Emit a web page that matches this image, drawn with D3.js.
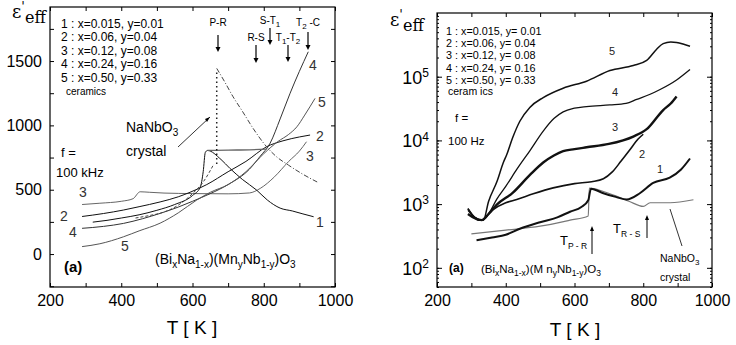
<!DOCTYPE html>
<html>
<head>
<meta charset="utf-8">
<script src="https://cdn.jsdelivr.net/npm/d3@7"></script>
<style>
  body { margin: 0; background: #fff; }
  svg { font-family: "Liberation Sans", Arial, sans-serif; }
  .tick text { font-size: 16px; }
</style>
</head>
<body>
<svg id="chart" width="736" height="345"></svg>
<script>
// ---- panel (a) left: 100 kHz, linear scale  [T (K), eps]
const left1 = [[320,248],[360,262],[400,280],[450,305],[500,340],[550,385],[600,455],[622,520],[630,640],[636,790],[642,805],[680,735],[705,666],[740,580],[780,497],[810,420],[846,357],[880,335],[910,312],[940,290]];
const left2 = [[290,292],[350,315],[406,342],[450,368],[509,405],[560,445],[593,480],[640,540],[700,640],[750,720],[808,834],[854,880],[900,910],[930,925]];
const left3 = [[290,385],[340,395],[400,410],[433,430],[453,484],[480,480],[520,474],[600,470],[700,468],[760,475],[790,510],[830,600],[870,720],[900,800],[920,873]];
const left4 = [[290,200],[350,215],[406,238],[460,275],[509,316],[560,365],[600,410],[650,470],[700,540],[760,660],[790,760],[818,862],[846,1050],[874,1250],[900,1420],[925,1572]];
const left5 = [[290,58],[340,80],[406,134],[450,180],[509,240],[560,320],[612,420],[650,480],[700,540],[750,640],[800,780],[840,875],[870,930],[893,989],[915,1080],[944,1210]];
const leftFlat = [[642,805],[700,808],[760,810],[808,815]];
const crystalLow = [[440,280],[480,300],[510,318],[560,380],[600,470],[630,560],[660,700]];
const crystalJump = [[668,700],[668,1430]];
const crystalHigh = [[668,1443],[690,1340],[714,1222],[740,1110],[770,977],[808,834],[836,756],[870,690],[910,620],[950,560]];

// ---- panel (a) right: 100 Hz, log scale
const right1 = [[315,270],[360,300],[400,330],[441,410],[500,520],[550,620],[587,760],[620,900],[640,1150],[648,1750],[684,1480],[720,1300],[752,1180],[790,1480],[829,2150],[877,2600],[910,3500],[936,5200]];
const right2 = [[290,850],[310,620],[330,560],[360,800],[400,1050],[432,1180],[480,1450],[538,1800],[600,2100],[650,2250],[684,2500],[710,3200],[735,4700],[760,7000],[785,10500],[800,12500]];
const right3 = [[290,700],[310,600],[330,560],[350,700],[374,980],[420,1500],[471,2900],[509,4500],[540,5800],[567,6800],[600,7300],[635,7800],[700,8800],[771,11500],[810,15000],[858,30000],[880,38000],[897,49000]];
const right4 = [[290,800],[310,620],[330,560],[350,700],[374,1200],[400,1900],[432,3500],[471,7000],[509,14000],[540,22000],[567,28000],[600,32000],[635,34000],[703,36000],[750,38000],[781,44000],[820,53000],[849,63000],[897,89000],[936,130000]];
const right5 = [[290,850],[305,650],[320,560],[335,560],[350,1100],[375,2300],[393,4500],[403,6000],[420,11000],[441,20000],[470,33000],[509,47000],[567,66000],[635,85000],[703,125000],[771,150000],[810,180000],[839,270000],[858,330000],[880,350000],[897,345000],[920,320000],[936,300000]];
const rightCrystal = [[300,340],[400,390],[500,450],[587,560],[640,650],[643,1780],[684,1580],[720,1350],[760,1100],[800,920],[820,1050],[878,1050],[946,1170]];

const legendLeft = ['1 :  x=0.015, y=0.01', '2 :  x=0.06, y=0.04', '3 :  x=0.12, y=0.08', '4 :  x=0.24, y=0.16', '5 :  x=0.50, y=0.33'];
const legendRight = ['1 :   x=0.015, y= 0.01', '2 :   x=0.06, y= 0.04', '3 :   x=0.12, y= 0.08', '4 :   x=0.24, y= 0.16', '5 :   x=0.50, y= 0.33'];
const xTicks = [200, 400, 600, 800, 1000];
const yTicksLeft = [0, 500, 1000, 1500];
const yTicksRight = [1e2, 1e3, 1e4, 1e5];

const svg = d3.select('#chart');

function frame(g, x, y) {
    const [x0, x1] = x.range(), [y0, y1] = y.range();
    g.append('rect').attr('x', x0).attr('y', y1).attr('width', x1 - x0).attr('height', y0 - y1)
        .attr('fill', 'none').attr('stroke', '#000').attr('stroke-width', 1.2);
    // bottom + top
    g.append('g').attr('transform', `translate(0,${y0})`)
        .call(d3.axisBottom(x).tickValues(d3.range(200, 1001, 100)).tickSizeInner(-4).tickSizeOuter(0).tickPadding(8)
            .tickFormat(d => xTicks.includes(d) ? d : ''));
    g.append('g').attr('transform', `translate(0,${y1})`)
        .call(d3.axisTop(x).tickValues(d3.range(200, 1001, 100)).tickSizeInner(-4).tickSizeOuter(0).tickFormat(''));
}

// text with subscripts: parts = [[text, 'sub'|'sup'|null, size]]
function rich(g, x, y, size, parts, opts) {
    const t = g.append('text').attr('x', x).attr('y', y).style('font-size', size + 'px')
        .attr('fill', (opts && opts.fill) || '#000');
    if (opts && opts.anchor) t.attr('text-anchor', opts.anchor);
    if (opts && opts.weight) t.style('font-weight', opts.weight);
    if (opts && opts.family) t.style('font-family', opts.family);
    let cur = 0;
    parts.forEach(([s, kind, sz]) => {
        const target = kind === 'sub' ? size * 0.3 : kind === 'sup' ? -size * 0.4 : 0;
        const ts = t.append('tspan').attr('dy', target - cur).text(s);
        if (sz) ts.style('font-size', sz + 'px');
        cur = target;
    });
    return t;
}
const txt = (g, x, y, s, size, opts) => rich(g, x, y, size, [[s]], opts);

// ---------- left panel
const xl = d3.scaleLinear().domain([200, 1000]).range([50, 335]);
const yl = d3.scaleLinear().domain([-256, 1920]).range([287, 7]);
const gl = svg.append('g');
frame(gl, xl, yl);
gl.append('g').attr('transform', 'translate(50,0)')
    .call(d3.axisLeft(yl).tickValues(d3.range(-250, 1901, 250)).tickSizeInner(-4).tickSizeOuter(0).tickPadding(8)
        .tickFormat(d => yTicksLeft.includes(d) ? d : ''));
gl.append('g').attr('transform', 'translate(335,0)')
    .call(d3.axisRight(yl).tickValues(d3.range(-250, 1901, 250)).tickSizeInner(-4).tickSizeOuter(0).tickFormat(''));
gl.selectAll('.domain').remove();

const linel = d3.line().x(d => xl(d[0])).y(d => yl(d[1])).curve(d3.curveMonotoneX);
const drawL = (data, color, dash, w) => gl.append('path').datum(data).attr('d', linel)
    .attr('fill', 'none').attr('stroke', color).attr('stroke-width', w || 1).attr('stroke-dasharray', dash || null);
drawL(left3, '#666');
drawL(left2, '#111');
drawL(left1, '#111');
drawL(left4, '#333');
drawL(left5, '#555');
drawL(leftFlat, '#666', null, 1.3);
drawL(crystalLow, '#444', '3,2');
drawL(crystalJump, '#222', '1.5,3', 1.5);
drawL(crystalHigh, '#444', '5,2,1,2');

// ---------- right panel
const xr = d3.scaleLinear().domain([200, 1000]).range([437, 712]);
const yr = d3.scaleLog().domain([50, 1e6]).range([287, 13]);
const gr = svg.append('g');
frame(gr, xr, yr);
const minor = [];
[10, 100, 1000, 10000, 100000].forEach(p => d3.range(1, 10).forEach(k => { if (p * k >= 50 && p * k <= 1e6) minor.push(p * k); }));
gr.append('g').attr('transform', 'translate(437,0)')
    .call(d3.axisLeft(yr).tickValues(minor).tickSize(-2).tickFormat(''));
gr.append('g').attr('transform', 'translate(712,0)')
    .call(d3.axisRight(yr).tickValues(minor).tickSize(-2).tickFormat(''));
const yax = gr.append('g').attr('transform', 'translate(437,0)')
    .call(d3.axisLeft(yr).tickValues(yTicksRight).tickSizeInner(-5).tickSizeOuter(0).tickPadding(8).tickFormat(''));
gr.append('g').attr('transform', 'translate(712,0)')
    .call(d3.axisRight(yr).tickValues(yTicksRight).tickSizeInner(-5).tickSizeOuter(0).tickFormat(''));
yax.selectAll('.tick').append('text').attr('x', -8).attr('dy', '0.35em').attr('text-anchor', 'end')
    .attr('fill', '#000').style('font-size', '18px')
    .each(function (d) {
        const t = d3.select(this);
        t.append('tspan').text('10');
        t.append('tspan').attr('dy', '-0.55em').style('font-size', '12px').text(Math.round(Math.log10(d)));
    });
gr.selectAll('.domain').remove();

const liner = d3.line().x(d => xr(d[0])).y(d => yr(d[1])).curve(d3.curveMonotoneX);
const drawR = (data, color, w) => gr.append('path').datum(data).attr('d', liner)
    .attr('fill', 'none').attr('stroke', color).attr('stroke-width', w);
drawR(rightCrystal, '#777', 1.2);
drawR(right1, '#111', 2);
drawR(right2, '#111', 1.6);
drawR(right3, '#111', 2.4);
drawR(right4, '#111', 1.3);
drawR(right5, '#111', 1.5);

// ---------- texts
txt(svg, 192, 334, 'T [ K ]', 19, { anchor: 'middle' });
txt(svg, 575, 336, 'T [ K ]', 19, { anchor: 'middle' });
[[12, 18], [390, 26]].forEach(([x, y]) => {
    rich(svg, x, y, 18, [['ε'], ['\'', 'sup', 13], ['eff', 'sub', 16]], { family: 'DejaVu Serif' });
});

// left legend & notes
legendLeft.forEach((s, i) => txt(gl, 61, 28 + i * 13.4, s, 12));
txt(gl, 66, 95, 'ceramics', 10);
txt(gl, 61, 157, 'f =', 13);
txt(gl, 56, 177, '100 kHz', 13);
rich(gl, 126, 132, 14, [['NaNbO'], ['3', 'sub', 10]]);
txt(gl, 126, 156, 'crystal', 14);
gl.append('line').attr('x1', 178).attr('y1', 147).attr('x2', 210).attr('y2', 117).attr('stroke', '#000').attr('stroke-width', 0.8);
gl.append('path').attr('d', 'M210,117 l-5,2 l2,3 z').attr('fill', '#000');
txt(gl, 64, 272, '(a)', 15, { weight: 'bold' });
rich(gl, 155, 264, 14, [['(Bi'], ['x', 'sub', 10], ['Na'], ['1-x', 'sub', 10], [')(Mn'], ['y', 'sub', 10], ['Nb'], ['1-y', 'sub', 10], [')O'], ['3', 'sub', 10]]);
// transition arrows
[[[['P-R']], 218, 26, 35, 52], [[['R-S']], 256, 41, 45, 63], [[['S-T'], ['1', 'sub', 8]], 270, 24, 28, 45],
 [[['T'], ['1', 'sub', 8], ['-T'], ['2', 'sub', 8]], 288, 41, 45, 62], [[['T'], ['2', 'sub', 8], [' -C']], 308, 26, 32, 50]]
    .forEach(([parts, x, ty, a0, a1]) => {
        rich(gl, x, ty, 10, parts, { anchor: 'middle' });
        gl.append('line').attr('x1', x).attr('x2', x).attr('y1', a0).attr('y2', a1 - 4).attr('stroke', '#000').attr('stroke-width', 1.2);
        gl.append('path').attr('d', `M${x - 2.5},${a1 - 5} L${x + 2.5},${a1 - 5} L${x},${a1} Z`).attr('fill', '#000');
    });
[['4', 313, 70], ['5', 322, 107], ['2', 320, 141], ['3', 310, 161], ['1', 320, 227], ['3', 83, 197], ['2', 64, 221], ['4', 73, 237], ['5', 125, 251]]
    .forEach(([s, x, y]) => txt(gl, x, y, s, 14, { anchor: 'middle', fill: '#333' }));

// right legend & notes
legendRight.forEach((s, i) => txt(gr, 446, 35 + i * 12.2, s, 10.8));
txt(gr, 448, 95, 'ceram ics', 10.5);
txt(gr, 455, 122, 'f =', 11.5);
txt(gr, 448, 145, '100 Hz', 11.5);
txt(gr, 449, 272, '(a)', 12, { weight: 'bold' });
rich(gr, 481, 273, 11.5, [['(Bi'], ['x', 'sub', 8.5], ['Na'], ['1-x', 'sub', 8.5], [')(M n'], ['y', 'sub', 8.5], ['Nb'], ['1-y', 'sub', 8.5], [')O'], ['3', 'sub', 8.5]]);
rich(gr, 560, 245, 13, [['T'], ['P - R', 'sub', 8.5]]);
rich(gr, 613, 233, 13, [['T'], ['R - S', 'sub', 8.5]]);
[[592, 254, 226], [647, 238, 215]].forEach(([x, y0, y1]) => {
    gr.append('line').attr('x1', x).attr('x2', x).attr('y1', y0).attr('y2', y1 + 4).attr('stroke', '#000');
    gr.append('path').attr('d', `M${x - 2},${y1 + 5} L${x + 2},${y1 + 5} L${x},${y1} Z`).attr('fill', '#000');
});
rich(gr, 660, 262, 10.5, [['NaNbO'], ['3', 'sub', 8]]);
txt(gr, 660, 281, 'crystal', 10.5);
gr.append('line').attr('x1', 682).attr('y1', 246).attr('x2', 670).attr('y2', 209).attr('stroke', '#000').attr('stroke-width', 0.8);
[['5', 612, 55], ['4', 615, 96], ['3', 615, 131], ['2', 642, 158], ['1', 660, 173]]
    .forEach(([s, x, y]) => txt(gr, x, y, s, 11, { anchor: 'middle', fill: '#222' }));
</script>
</body>
</html>
